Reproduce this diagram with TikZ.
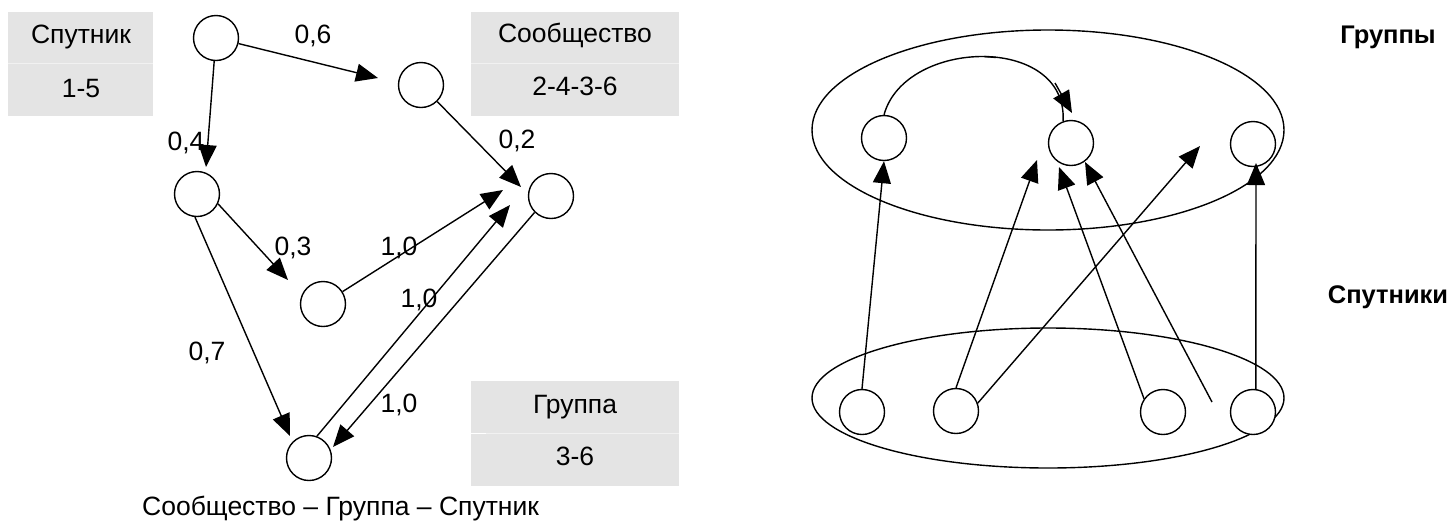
\documentclass[tikz,border=0pt]{standalone}
\usepackage{fontspec}
\setmainfont{Liberation Sans}
\usetikzlibrary{arrows.meta}
\definecolor{cellgray}{RGB}{228,228,228}
\begin{document}
\begin{tikzpicture}[x=1pt,y=-1pt,
  lbl/.style={font=\fontsize{26.5}{31}\selectfont, inner sep=0pt, anchor=base},
  bl/.style={font=\fontsize{25.5}{30}\selectfont\bfseries, inner sep=0pt, anchor=base},
  circ/.style={draw, circle, minimum size=45pt, inner sep=0pt, line width=1.4pt, fill=white},
  arr/.style={-{Triangle[length=22pt,width=18pt]}, line width=1.4pt},
  ln/.style={line width=1.4pt},
  divline/.style={white!50!cellgray, line width=1pt}
  ]
\useasboundingbox (0,0) rectangle (1452,523);

% ---------- left: boxes ----------
\fill[cellgray] (8,12) rectangle (153,116);
\draw[divline] (8,63.5) -- (153,63.5);
\node[lbl] (t1a) at (81,43) {Спутник};
\node[lbl] (t1b) at (81,97) {1-5};

\fill[cellgray] (471,12) rectangle (679,116);
\draw[divline] (471,63.5) -- (679,63.5);
\node[lbl] (t2a) at (575,42) {Сообщество};
\node[lbl] (t2b) at (575,95) {2-4-3-6};

\fill[cellgray] (471,381) rectangle (679,486);
\draw[divline] (471,433) -- (679,433);
\draw[white, line width=1pt] (471,433) -- (486,433);
\node[lbl] (t3a) at (575,413) {Группа};
\node[lbl] (t3b) at (575,465) {3-6};

\node[lbl, anchor=base west] (cap) at (142,515) {Сообщество – Группа – Спутник};

% ---------- left: graph ----------
\node[circ] (A) at (216,38) {};
\node[circ] (B) at (421,85) {};
\node[circ] (C) at (197,194) {};
\node[circ] (D) at (323,304) {};
\node[circ] (E) at (551,196) {};
\node[circ] (F) at (309,458) {};

\coordinate (tAB) at (378,78);
\coordinate (tAC) at (206,167);
\coordinate (tBE) at (521,187);
\coordinate (tCD) at (288,280);
\coordinate (tCF) at (290,436);
\coordinate (tDE) at (503,190);
\coordinate (tFE) at (510,205);
\coordinate (tEF) at (333,447);

\draw[arr] (A) -- (tAB);
\draw[arr] (A) -- (tAC);
\draw[arr] (B) -- (tBE);
\draw[arr] (C.-25) -- (tCD);
\draw[arr] (C.-95) -- (tCF);
\draw[arr] (D) -- (tDE);
\draw[arr] (F.70) -- (tFE);
\draw[arr] (E.-135) -- (tEF);

\node[lbl] (l06) at (313,43) {0,6};
\node[lbl] (l04) at (186,150) {0,4};
\node[lbl] (l02) at (517,148) {0,2};
\node[lbl] (l03) at (293,255) {0,3};
\node[lbl] (l10a) at (399,255) {1,0};
\node[lbl] (l10b) at (419,307) {1,0};
\node[lbl] (l07) at (207,360) {0,7};
\node[lbl] (l10c) at (399,412) {1,0};

% ---------- right ----------
\draw[ln] (1048,130) ellipse [x radius=236pt, y radius=100pt];
\draw[ln] (1048,398) ellipse [x radius=236pt, y radius=70pt];

\node[circ] (G1) at (884,138) {};
\node[circ] (G2) at (1071,143) {};
\node[circ] (G3) at (1253,144) {};
\node[circ] (S1) at (862,412) {};
\node[circ] (S2) at (956,411) {};
\node[circ] (S3) at (1163,412) {};
\node[circ] (S4) at (1253,412) {};

\coordinate (tR2) at (1037,160);
\coordinate (tR3) at (1200,146);
\coordinate (tR4) at (1059,167);
\coordinate (sR5) at (1212,402);
\coordinate (tR5) at (1085,162);
\coordinate (tR6) at (1256,163);
\coordinate (cS) at (1055,83);
\coordinate (cT) at (1072,113);
\coordinate (k1) at (984,56.5);
\coordinate (k2) at (996,57.5);

\draw[arr] (S1.north) -- (G1.south);
\draw[arr] (S2.north) -- (tR2);
\draw[arr] (S2.20) -- (tR3);
\draw[arr] (S3.145) -- (tR4);
\draw[arr] (sR5) -- (tR5);
\draw[arr] (S4.83) -- (tR6);
\draw[ln] (G1.north) .. controls (905,38) and (1068,34) .. (G2.110);
\draw[ln] (k1) -- (k2);
\draw[arr] (cS) -- (cT);

\node[bl] (gr) at (1388,43) {Группы};
\node[bl] (sp) at (1388,303) {Спутники};
\end{tikzpicture}
\end{document}
